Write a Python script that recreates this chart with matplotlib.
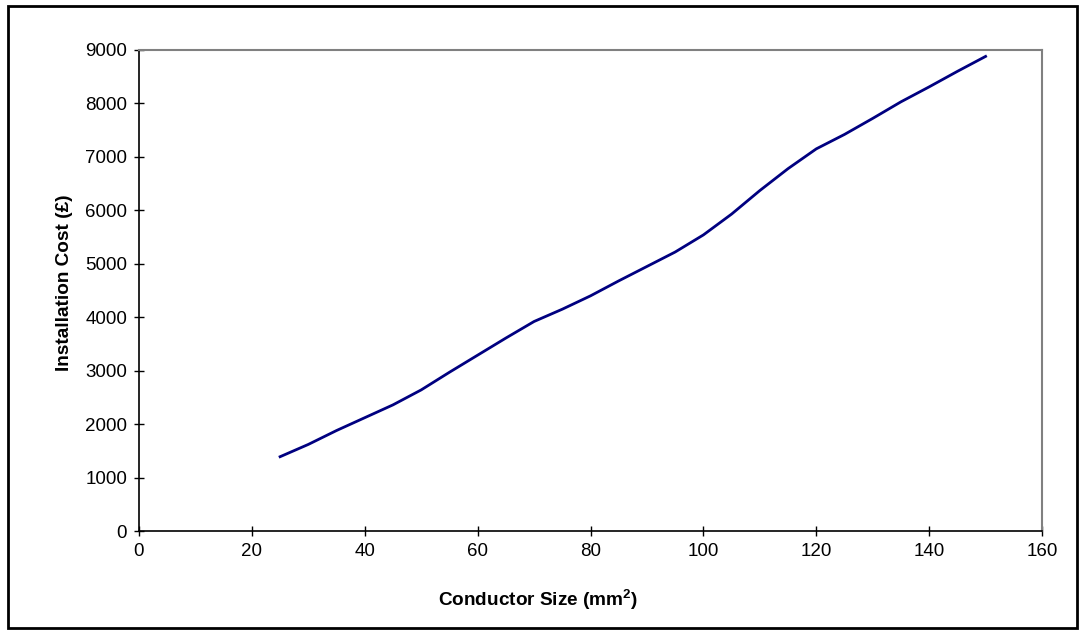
import matplotlib.pyplot as plt
from matplotlib.patches import Rectangle

# Installation cost against conductor cross-section
conductor_size = [25, 30, 35, 40, 45, 50, 55, 60, 65, 70, 75, 80, 85,
                  90, 95, 100, 105, 110, 115, 120, 125, 130, 135, 140, 145, 150]
install_cost = [1390, 1620, 1880, 2120, 2360, 2640, 2970, 3290, 3610, 3920,
                4150, 4400, 4680, 4950, 5220, 5540, 5930, 6370, 6780, 7150,
                7420, 7720, 8030, 8310, 8600, 8880]

x_ticks = [0, 20, 40, 60, 80, 100, 120, 140, 160]
y_ticks = [0, 1000, 2000, 3000, 4000, 5000, 6000, 7000, 8000, 9000]

plt.rcParams["font.family"] = ["Liberation Sans", "DejaVu Sans"]
plt.rcParams["mathtext.fontset"] = "custom"
plt.rcParams["mathtext.rm"] = "Liberation Sans"
plt.rcParams["mathtext.bf"] = "Liberation Sans:bold"

fig = plt.figure(figsize=(10.85, 6.32), dpi=100)
ax = fig.add_axes([0.1281, 0.1598, 0.8323, 0.7611])

ax.plot(conductor_size, install_cost, color="#000080", linewidth=2.0,
        solid_joinstyle="round")

ax.set_xlim(0, 160)
ax.set_ylim(0, 9000)
ax.set_xticks(x_ticks)
ax.set_yticks(y_ticks)
ax.tick_params(direction="inout", length=7, width=1.0, labelsize=13.5,
               colors="black", pad=5)

for side in ("left", "bottom"):
    ax.spines[side].set_color("black")
    ax.spines[side].set_linewidth(1.2)
for side in ("top", "right"):
    ax.spines[side].set_color("#808080")
    ax.spines[side].set_linewidth(1.5)

# axis titles placed in figure coordinates
fig.text(0.4959, 0.0506, r"Conductor Size (mm$^\mathbf{2}$)", fontsize=13.7,
         fontweight="bold", ha="center", va="center")
fig.text(0.059, 0.5522, "Installation Cost (£)", fontsize=13.7,
         fontweight="bold", ha="center", va="center", rotation=90)

# outer chart frame
fig.patches.append(Rectangle((0.0075, 0.006), 0.985, 0.985,
                             transform=fig.transFigure, fill=False,
                             edgecolor="black", linewidth=2.0))

fig.savefig("out.png", dpi=100)
